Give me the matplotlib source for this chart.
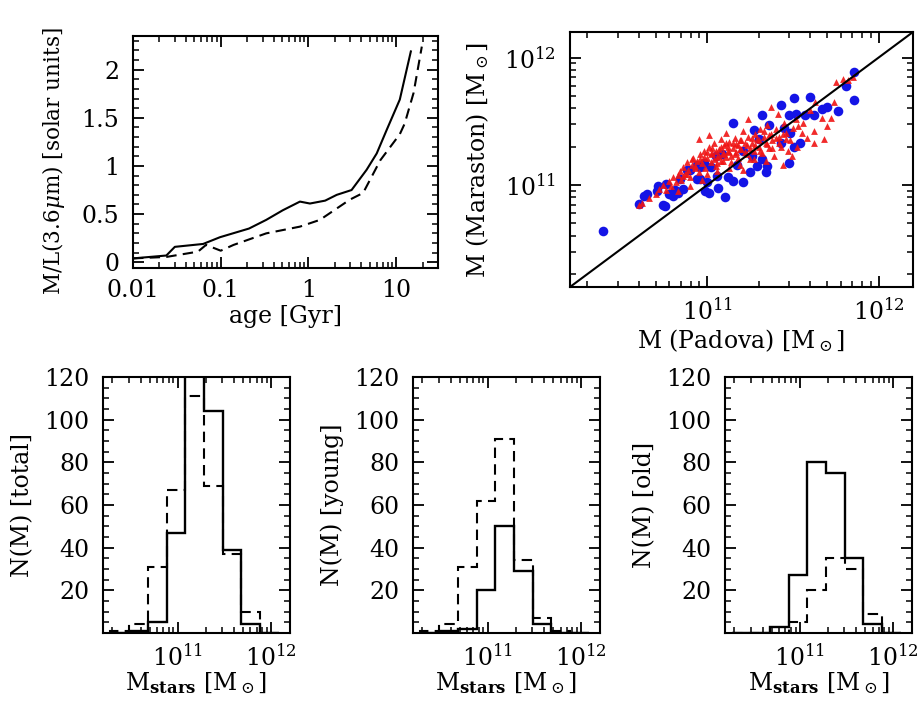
import matplotlib
matplotlib.use("Agg")
import matplotlib.pyplot as plt
import numpy as np
from matplotlib.ticker import FixedLocator, NullFormatter, FuncFormatter, LogLocator

plt.rcParams.update({
    "font.family": "DejaVu Serif",
    "mathtext.fontset": "dejavuserif",
    "font.size": 17,
    "axes.linewidth": 1.5,
    "xtick.color": "k", "ytick.color": "k",
})

# --- M/L vs age (3.6 micron) ---
AGE_SOLID = [0.01, 0.024, 0.03, 0.063, 0.098, 0.21, 0.33, 0.51, 0.8, 1.04,
             1.55, 2.1, 3.1, 4.6, 6.0, 7.8, 11.0, 14.7]
ML_SOLID = [0.04, 0.07, 0.16, 0.19, 0.26, 0.35, 0.44, 0.54, 0.63, 0.61,
            0.64, 0.70, 0.75, 0.96, 1.13, 1.375, 1.69, 2.19]
AGE_DASH = [0.01, 0.024, 0.03, 0.055, 0.068, 0.1, 0.14, 0.33, 0.8, 1.35,
            2.96, 4.2, 6.6, 11.0, 12.5, 15.8, 19.6]
ML_DASH = [0.04, 0.055, 0.07, 0.11, 0.18, 0.12, 0.18, 0.30, 0.37, 0.44,
           0.65, 0.72, 1.06, 1.33, 1.44, 1.76, 2.24]

# --- Maraston vs Padova masses (log10 Msun) ---
BLUE_LX = [10.39, 10.60, 10.63, 10.65, 10.705, 10.715, 10.745, 10.755, 10.76, 10.78,
           10.80, 10.81, 10.83, 10.84, 10.86, 10.88, 10.90, 10.94, 10.94, 10.96,
           10.96, 10.98, 10.99, 11.00, 11.01, 11.02, 11.05, 11.06, 11.065, 11.085,
           11.105, 11.12, 11.15, 11.15, 11.175, 11.21, 11.21, 11.25, 11.26, 11.27,
           11.29, 11.30, 11.32, 11.32, 11.34, 11.35, 11.36, 11.43, 11.43, 11.45,
           11.475, 11.475, 11.485, 11.505, 11.505, 11.515, 11.54, 11.57, 11.60, 11.62,
           11.67, 11.70, 11.76, 11.81, 11.855, 11.855]
BLUE_LY = [10.64, 10.85, 10.91, 10.93, 10.955, 10.995, 10.84, 10.835, 11.01, 10.93,
           10.91, 10.96, 10.94, 11.05, 10.97, 11.12, 11.12, 11.16, 11.05, 11.05,
           11.14, 11.175, 10.955, 11.02, 10.94, 11.14, 11.23, 11.07, 10.98, 11.24,
           10.905, 11.06, 11.03, 11.49, 11.16, 11.02, 11.27, 11.10, 11.23, 11.43,
           11.15, 11.36, 11.55, 11.20, 11.10, 11.15, 11.47, 11.63, 11.33, 11.45,
           11.175, 11.55, 11.41, 11.30, 11.68, 11.56, 11.33, 11.55, 11.69, 11.55,
           11.60, 11.61, 11.58, 11.78, 11.67, 11.89]
RED_LX = [10.60, 10.62, 10.66, 10.70, 10.72, 10.74, 10.76, 10.78, 10.79, 10.80,
          10.82, 10.83, 10.83, 10.84, 10.85, 10.86, 10.87, 10.88, 10.89, 10.90,
          10.90, 10.91, 10.92, 10.93, 10.94, 10.95, 10.95, 10.96, 10.97, 10.97,
          10.98, 10.99, 11.00, 11.00, 11.01, 11.01, 11.02, 11.03, 11.04, 11.05,
          11.06, 11.06, 11.07, 11.08, 11.08, 11.09, 11.10, 11.11, 11.11, 11.12,
          11.13, 11.13, 11.14, 11.15, 11.16, 11.16, 11.17, 11.18, 11.19, 11.19,
          11.20, 11.21, 11.21, 11.22, 11.23, 11.24, 11.24, 11.25, 11.26, 11.27,
          11.27, 11.28, 11.29, 11.30, 11.31, 11.32, 11.33, 11.34, 11.34, 11.35,
          11.36, 11.37, 11.37, 11.38, 11.39, 11.40, 11.41, 11.42, 11.43, 11.44,
          11.45, 11.46, 11.47, 11.48, 11.495, 11.50, 11.52, 11.525, 11.53, 11.55,
          11.56, 11.58, 11.60, 11.62, 11.62, 11.63, 11.67, 11.68, 11.70, 11.72,
          11.74, 11.75, 11.79, 11.82, 11.85,
          10.91, 10.93, 10.96, 10.98, 11.00, 11.02, 11.03, 11.04, 11.05, 11.07,
          11.08, 11.09, 11.10, 11.12, 11.13, 11.14, 11.15, 11.17, 11.18, 11.20,
          11.22, 11.23, 11.25, 11.26, 11.28, 11.30, 11.31, 11.33, 11.35, 11.36,
          11.38, 11.40, 11.42, 11.44, 11.46, 10.88, 10.86, 11.06, 11.11, 11.19]
RED_LY = [10.845, 10.86, 10.90, 10.93, 10.97, 11.00, 10.96, 11.03, 10.99, 11.06,
          11.02, 11.08, 10.95, 11.11, 11.04, 11.14, 11.09, 11.18, 11.12, 11.06,
          10.99, 11.16, 11.21, 11.13, 11.19, 11.36, 11.10, 11.24, 11.17, 11.04,
          11.27, 11.13, 11.21, 11.09, 11.395, 11.30, 11.18, 11.25, 11.33, 11.15,
          11.22, 11.11, 11.28, 11.36, 11.19, 11.25, 11.31, 11.41, 11.22, 11.27,
          11.34, 11.13, 11.18, 11.29, 11.24, 11.37, 11.32, 11.21, 11.28, 11.16,
          11.35, 11.42, 11.12, 11.26, 11.31, 11.52, 11.38, 11.20, 11.33, 11.27,
          11.20, 11.40, 11.36, 11.30, 11.44, 11.25, 11.38, 11.33, 11.19, 11.47,
          11.29, 11.61, 11.40, 11.35, 11.23, 11.44, 11.56, 11.38, 11.30, 11.16,
          11.49, 11.41, 11.27, 11.35, 11.23, 11.45, 11.52, 11.30, 11.46, 11.41,
          11.49, 11.37, 11.59, 11.33, 11.42, 11.65, 11.525, 11.36, 11.46, 11.525,
          11.65, 11.81, 11.83, 11.82, 11.85,
          11.20, 11.15, 11.20, 11.22, 11.26, 11.24, 11.29, 11.20, 11.27, 11.23,
          11.30, 11.19, 11.24, 11.30, 11.26, 11.23, 11.33, 11.26, 11.31, 11.28,
          11.33, 11.24, 11.29, 11.37, 11.31, 11.35, 11.27, 11.42, 11.32, 11.39,
          11.29, 11.37, 11.33, 11.40, 11.36, 11.09, 11.07, 11.17, 11.33, 11.35]

# --- mass histograms, log10 bin edges (0.2 dex) ---
LOG_EDGES = [10.28, 10.48, 10.68, 10.88, 11.08, 11.28, 11.48, 11.68, 11.88, 12.08]
TOTAL_SOLID = [0, 1, 5, 47, 130, 104, 39, 4, 0]
TOTAL_DASH = [1, 4, 31, 67, 111, 69, 37, 10, 0]
YOUNG_SOLID = [0, 1, 2, 20, 50, 29, 4, 0, 0]
YOUNG_DASH = [1, 4, 31, 62, 91, 34, 7, 1, 0]
OLD_SOLID = [0, 0, 3, 27, 80, 75, 35, 4, 0]
OLD_DASH = [0, 0, 0, 5, 20, 35, 30, 9, 0]
HIST_LABELS = ["total", "young", "old"]

DASH = (0, (5, 3))
fig = plt.figure(figsize=(9.21, 7.02), dpi=100)


def style(ax, logx=False, logy=False):
    for on, axis in ((logx, ax.xaxis), (logy, ax.yaxis)):
        if on:
            axis.set_major_locator(LogLocator(base=10))
            axis.set_minor_locator(LogLocator(base=10, subs=np.arange(2, 10)))
            axis.set_minor_formatter(NullFormatter())
    ax.tick_params(which="both", direction="in", color="k",
                   bottom=True, left=True, top=True, right=True)
    ax.tick_params(which="major", length=8, width=1.3)
    ax.tick_params(which="minor", length=4, width=1.1)
    ax.tick_params(axis="x", which="major", pad=8)
    ax.tick_params(axis="y", which="major", pad=10)


# top-left: M/L vs age
ax = fig.add_axes([0.1444, 0.6182, 0.3312, 0.3305])
ax.plot(AGE_SOLID, ML_SOLID, "k-", lw=1.5)
ax.plot(AGE_DASH, ML_DASH, "k", ls=DASH, lw=1.5)
ax.set_xscale("log")
ax.set_xlim(0.01, 30)
ax.set_ylim(-0.06, 2.35)
style(ax, logx=True)
ax.xaxis.set_major_formatter(FuncFormatter(lambda v, p: f"{v:g}"))
ax.yaxis.set_major_locator(FixedLocator([0, 0.5, 1, 1.5, 2]))
ax.yaxis.set_minor_locator(FixedLocator(np.arange(0, 2.35, 0.1)))
ax.yaxis.set_major_formatter(FuncFormatter(lambda v, p: f"{v:g}"))
ax.set_xlabel("age [Gyr]", labelpad=2)
ax.set_ylabel(r"M/L(3.6$\mu$m) [solar units]", fontsize=15.5)
ax.yaxis.set_label_coords(-0.215, 0.46)

# top-right: Maraston vs Padova
ax = fig.add_axes([0.6189, 0.5912, 0.3724, 0.3632])
ax.scatter(10 ** np.array(BLUE_LX), 10 ** np.array(BLUE_LY), s=48, c="#1414e6",
           marker="o", lw=0, zorder=2)
ax.scatter(10 ** np.array(RED_LX), 10 ** np.array(RED_LY), s=24, c="#f01414",
           marker="^", lw=0, alpha=0.9, zorder=3)
lim = (10 ** 10.2, 10 ** 12.2)
ax.plot(lim, lim, "k-", lw=1.5, zorder=4)
ax.set_xscale("log"); ax.set_yscale("log")
ax.set_xlim(lim); ax.set_ylim(lim)
style(ax, logx=True, logy=True)
ax.set_xlabel(r"M (Padova) [M$_\odot$]", labelpad=2)
ax.set_ylabel(r"M (Maraston) [M$_\odot$]")
ax.yaxis.set_label_coords(-0.23, 0.5)

# bottom row: histograms
lefts = [0.1118, 0.4484, 0.7872]
edges = 10 ** np.array(LOG_EDGES)
for left, name, sol, dsh in zip(lefts, HIST_LABELS,
                                [TOTAL_SOLID, YOUNG_SOLID, OLD_SOLID],
                                [TOTAL_DASH, YOUNG_DASH, OLD_DASH]):
    ax = fig.add_axes([left, 0.0983, 0.2030, 0.3647])
    ax.stairs(dsh, edges, color="k", ls=DASH, lw=1.5)
    ax.stairs(sol, edges, color="k", lw=1.7)
    ax.set_xscale("log")
    ax.set_xlim(10 ** 10.2, 10 ** 12.2)
    ax.set_ylim(0, 120)
    style(ax, logx=True)
    ax.yaxis.set_major_locator(FixedLocator([20, 40, 60, 80, 100, 120]))
    ax.yaxis.set_minor_locator(FixedLocator(np.arange(0, 121, 5)))
    ax.set_xlabel(r"M$_{\mathbf{stars}}$ [M$_\odot$]", labelpad=0)
    ax.set_ylabel(f"N(M) [{name}]")
    ax.yaxis.set_label_coords(-0.37, 0.5)

fig.savefig("out.png", dpi=100)
